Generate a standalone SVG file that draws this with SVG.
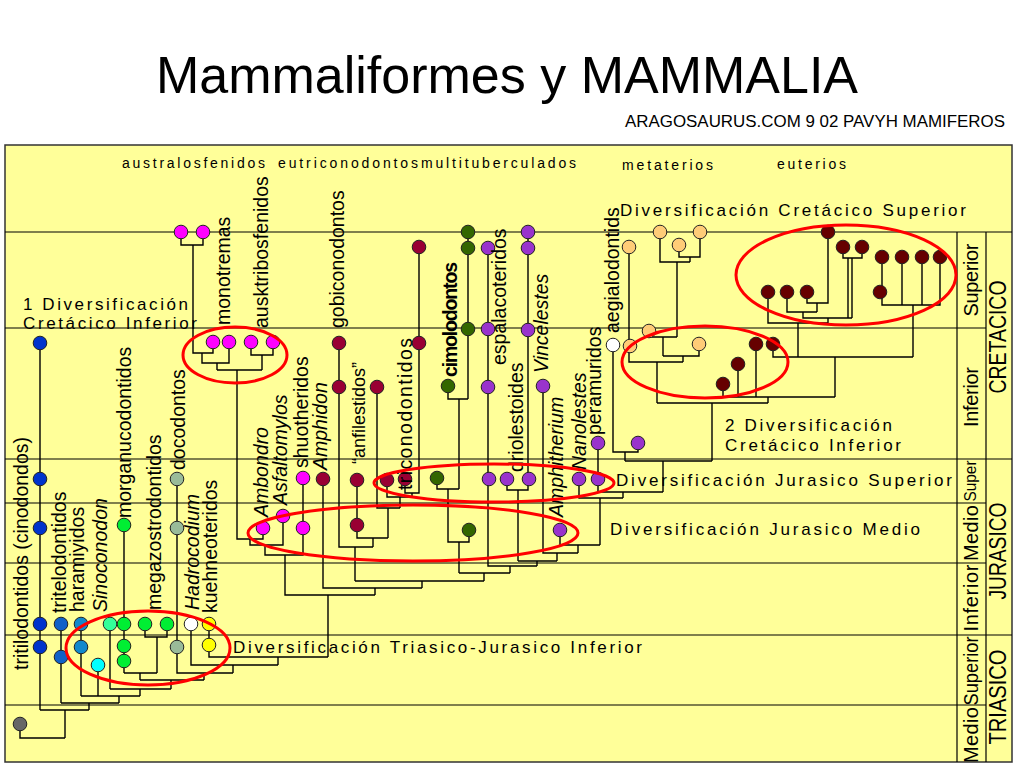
<svg xmlns="http://www.w3.org/2000/svg" width="1020" height="765" viewBox="0 0 1020 765">
<style>
.t{font-family:"Liberation Sans",Arial,sans-serif;fill:#000}
.v{font-size:19.5px}
.i{font-style:italic}
.lb{font-size:14px}
.dv{font-size:17px}
.p{font-size:20px}
.g{stroke:#000;stroke-width:1.2;fill:none}
.c{stroke:#000;stroke-width:1.4;fill:none}
.e{fill:none;stroke:#FF0000;stroke-width:3}
circle{stroke:#222;stroke-width:1}
.gy{fill:#666666}.bl{fill:#0033CC}.b2{fill:#1060C8}.b3{fill:#1188CC}.cy{fill:#00FFFF}.mi{fill:#33FF99}.gr{fill:#00EE33}.dc{fill:#99BB99}.wh{fill:#FFFFFF}.ye{fill:#FFFF00}.mg{fill:#FF00FF}.mr{fill:#990033}.dg{fill:#336600}.pu{fill:#9933CC}.or{fill:#FFCC77}.dm{fill:#660000}
</style>
<rect width="1020" height="765" fill="#fff"/>
<text class="t" x="507" y="93" font-size="52" text-anchor="middle">Mammaliformes y MAMMALIA</text>
<text class="t" x="625" y="127" font-size="16" textLength="380" lengthAdjust="spacingAndGlyphs">ARAGOSAURUS.COM 9 02 PAVYH MAMIFEROS</text>
<rect x="5" y="145" width="1007" height="617" fill="#FFFF99" stroke="#333" stroke-width="1.5"/>
<g id="grid">
<path class="g" d="M5,232H1012 M5,328H986 M5,459H1012 M5,503H986 M5,563H986 M5,635H1012 M5,705H986 M957,232V762 M986,232V762"/>
<text class="t p" transform="translate(978,280) rotate(-90)" text-anchor="middle" textLength="73">Superior</text>
<text class="t p" transform="translate(978,397) rotate(-90)" text-anchor="middle" textLength="60">Inferior</text>
<text class="t" font-size="16" transform="translate(976,481) rotate(-90)" text-anchor="middle" textLength="41" lengthAdjust="spacingAndGlyphs">Super</text>
<text class="t p" transform="translate(978,533) rotate(-90)" text-anchor="middle" textLength="56">Medio</text>
<text class="t p" transform="translate(978,598) rotate(-90)" text-anchor="middle" textLength="67">Inferior</text>
<text class="t p" transform="translate(978,671) rotate(-90)" text-anchor="middle" textLength="69" lengthAdjust="spacingAndGlyphs">Superior</text>
<text class="t p" transform="translate(978,735) rotate(-90)" text-anchor="middle" textLength="56">Medio</text>
<text class="t" font-size="23" transform="translate(1006,337) rotate(-90)" text-anchor="middle" textLength="113" lengthAdjust="spacingAndGlyphs">CRETACICO</text>
<text class="t" font-size="23" transform="translate(1006,551) rotate(-90)" text-anchor="middle" textLength="97" lengthAdjust="spacingAndGlyphs">JURASICO</text>
<text class="t" font-size="23" transform="translate(1006,697) rotate(-90)" text-anchor="middle" textLength="95" lengthAdjust="spacingAndGlyphs">TRIASICO</text>
</g>
<g id="labels">
<text class="t lb" x="122" y="168" textLength="143">australosfenidos</text>
<text class="t lb" x="278" y="168" textLength="140">eutriconodontos</text>
<text class="t lb" x="421" y="168" textLength="155">multituberculados</text>
<text class="t lb" x="622" y="170" textLength="91">metaterios</text>
<text class="t lb" x="777" y="169" textLength="69">euterios</text>
<text class="t dv" x="620" y="216" textLength="346">Diversificación Cretácico Superior</text>
<text class="t dv" x="23" y="310" textLength="165">1 Diversificación</text>
<text class="t dv" x="23" y="329" textLength="174">Cretácico Inferior</text>
<text class="t dv" x="725" y="431" textLength="167">2 Diversificación</text>
<text class="t dv" x="725" y="451" textLength="176">Cretácico Inferior</text>
<text class="t dv" x="616" y="486" textLength="336">Diversificación Jurasico Superior</text>
<text class="t dv" x="610" y="535" textLength="310">Diversificación Jurasico Medio</text>
<text class="t dv" x="233" y="653" textLength="409">Diversificación Triasico-Jurasico Inferior</text>
</g>
<g id="connectors">
<path class="c" d="M40,343V710 M61,624V703 M81,624V696 M98,665V696 M110,624V689 M124,525V673 M145,624V637H167V624 M157,637V673 M124,673H157 M140,673V680 M177,479V673H233 M204,673V680 M140,680H204 M171,680V689 M110,689H171 M140,689V696 M81,696H140 M119,696V703 M61,703H119 M89,703V710 M40,710H89 M65,710V738 M20,724V738H65 M191,624V665H278 M233,665V673 M209,624V657H328 M278,657V665 M328,595V657"/>
<path class="c" d="M181,232V245H203V232 M193,245V353H213V342 M202,353V363H229V342 M217,363V370 M251,342V355H273V342 M262,355V370 M217,370H262 M237,370V539H263V528 M250,539V545H283V516 M265,545V555H303V478 M285,555V595H375 M323,479V588H422 M375,588V595 M422,581V588 M355,581H484 M339,343V547H373 M355,547V581 M357,480V538H388 M373,538V547 M377,387V508H400 M388,508V538 M387,480V497H412 M400,497V508 M405,479V493H419V247 M412,493V497"/>
<path class="c" d="M484,573V581 M459,573H510 M468,232V399 M448,386V399H468 M459,399V489 M437,478V489H459 M448,489V542H469V530 M459,542V573 M488,248V566H537 M510,566V573 M537,561V566 M518,561H557 M507,479V490H528V232 M518,490V561 M557,553V561 M543,386V553H578 M578,545V553 M560,530V545H600 M600,498V545 M579,479V498H623 M598,443V492H663 M623,492V498 M663,461V492 M625,461H712 M613,345V452H638V443 M625,452V461 M712,403V461 M657,403H768"/>
<path class="c" d="M629,247V362H683 M657,362V403 M683,356V362 M663,356H699V344 M663,337V356 M649,331V337H677 M677,262V337 M660,232V262H690 M690,257V262 M679,245V257H700V232 M768,397V403 M723,384V397H835 M738,364V397 M756,344V397 M835,357V397 M773,344V357H913 M798,323V357 M913,305V357 M768,292V323H828 M828,318V323 M803,312V318H852 M787,292V312H817 M817,303V312 M807,292V303H828V232 M843,247V258H862V247 M848,258V318 M852,258V318 M882,257V305H940V257 M902,257V305 M922,257V305"/>
</g>
<g id="n-root"><circle class="gy" cx="20" cy="724" r="6.8"/></g>
<g id="n-tritilodontidos"><circle class="bl" cx="40" cy="343" r="6.8"/><circle class="bl" cx="40" cy="479" r="6.8"/><circle class="bl" cx="40" cy="528" r="6.8"/><circle class="bl" cx="40" cy="624" r="6.8"/><circle class="bl" cx="40" cy="647" r="6.8"/>
<text class="t v" transform="translate(28,670) rotate(-90)">tritilodontidos (cinodondos)</text></g>
<g id="n-tritelodontidos"><circle class="b2" cx="61" cy="624" r="6.8"/><circle class="b2" cx="61" cy="657" r="6.8"/>
<text class="t v" transform="translate(66,613) rotate(-90)">tritelodontidos</text></g>
<g id="n-haramiyidos"><circle class="b3" cx="81" cy="624" r="6.8"/><circle class="b3" cx="81" cy="647" r="6.8"/>
<text class="t v" transform="translate(84,612) rotate(-90)">haramiyidos</text></g>
<g id="n-sinoconodon"><circle class="cy" cx="98" cy="665" r="6.8"/><circle class="mi" cx="110" cy="624" r="6.8"/>
<text class="t v i" transform="translate(107,612) rotate(-90)">Sinoconodon</text></g>
<g id="n-morganucodontidos"><circle class="gr" cx="124" cy="525" r="6.8"/><circle class="gr" cx="124" cy="624" r="6.8"/><circle class="gr" cx="124" cy="646" r="6.8"/><circle class="gr" cx="124" cy="661" r="6.8"/>
<text class="t v" transform="translate(131,518) rotate(-90)">morganucodontidos</text></g>
<g id="n-megazostrodontidos"><circle class="gr" cx="145" cy="624" r="6.8"/><circle class="gr" cx="167" cy="624" r="6.8"/>
<text class="t v" transform="translate(161,610) rotate(-90)">megazostrodontidos</text></g>
<g id="n-docodontos"><circle class="dc" cx="177" cy="479" r="6.8"/><circle class="dc" cx="177" cy="528" r="6.8"/><circle class="dc" cx="177" cy="647" r="6.8"/>
<text class="t v" transform="translate(185,470) rotate(-90)">docodontos</text></g>
<g id="n-hadrocodium"><circle class="wh" cx="191" cy="624" r="6.8"/>
<text class="t v i" transform="translate(199,610) rotate(-90)">Hadrocodium</text></g>
<g id="n-kuehneoteridos"><circle class="ye" cx="209" cy="624" r="6.8"/><circle class="ye" cx="209" cy="645" r="6.8"/>
<text class="t v" transform="translate(217,613) rotate(-90)">kuehneoteridos</text></g>
<g id="n-australosfenidos"><circle class="mg" cx="181" cy="232" r="6.8"/><circle class="mg" cx="203" cy="232" r="6.8"/></g>
<g id="n-monotremas"><circle class="mg" cx="213" cy="342" r="6.8"/><circle class="mg" cx="229" cy="342" r="6.8"/>
<text class="t v" transform="translate(230,325) rotate(-90)">monotremas</text></g>
<g id="n-ausktribosfenidos"><circle class="mg" cx="251" cy="342" r="6.8"/><circle class="mg" cx="273" cy="342" r="6.8"/>
<text class="t v" transform="translate(268,328) rotate(-90)">ausktribosfenidos</text></g>
<g id="n-ambondro"><circle class="mg" cx="263" cy="528" r="6.8"/>
<text class="t v i" transform="translate(268,517) rotate(-90)">Ambondro</text></g>
<g id="n-asfaltomylos"><circle class="mg" cx="283" cy="516" r="6.8"/>
<text class="t v i" transform="translate(287,505) rotate(-90)">Asfaltomylos</text></g>
<g id="n-shuotheridos"><circle class="mg" cx="303" cy="478" r="6.8"/><circle class="mg" cx="303" cy="528" r="6.8"/>
<text class="t v" transform="translate(308,468) rotate(-90)">shuotheridos</text></g>
<g id="n-amphidon"><circle class="mr" cx="323" cy="479" r="6.8"/>
<text class="t v i" transform="translate(327,470) rotate(-90)">Amphidon</text></g>
<g id="n-gobiconodontos"><circle class="mr" cx="339" cy="343" r="6.8"/><circle class="mr" cx="339" cy="387" r="6.8"/>
<text class="t v" transform="translate(344,328) rotate(-90)">gobiconodontos</text></g>
<g id="n-anfilestidos"><circle class="mr" cx="357" cy="480" r="6.8"/><circle class="mr" cx="357" cy="525" r="6.8"/><circle class="mr" cx="377" cy="387" r="6.8"/>
<text class="t" font-size="18" transform="translate(365,464) rotate(-90)">“anfilestidos”</text></g>
<g id="n-triconodontidos"><circle class="mr" cx="387" cy="480" r="6.8"/><circle class="mr" cx="405" cy="479" r="6.8"/><circle class="mr" cx="419" cy="247" r="6.8"/><circle class="mr" cx="419" cy="343" r="6.8"/>
<text class="t v" transform="translate(412,490) rotate(-90)" textLength="152">triconodontidos</text></g>
<g id="n-cimolodontos"><circle class="dg" cx="468" cy="232" r="6.8"/><circle class="dg" cx="468" cy="248" r="6.8"/><circle class="dg" cx="468" cy="329" r="6.8"/><circle class="dg" cx="448" cy="386" r="6.8"/><circle class="dg" cx="437" cy="478" r="6.8"/><circle class="dg" cx="469" cy="530" r="6.8"/>
<text class="t v" font-weight="bold" transform="translate(457,377) rotate(-90)" textLength="115">cimolodontos</text></g>
<g id="n-espalacoteridos"><circle class="pu" cx="488" cy="248" r="6.8"/><circle class="pu" cx="488" cy="329" r="6.8"/><circle class="pu" cx="488" cy="387" r="6.8"/><circle class="pu" cx="489" cy="479" r="6.8"/>
<text class="t v" transform="translate(506,365) rotate(-90)">espalacoteridos</text></g>
<g id="n-driolestoides"><circle class="pu" cx="507" cy="479" r="6.8"/><circle class="pu" cx="529" cy="479" r="6.8"/><circle class="pu" cx="528" cy="232" r="6.8"/><circle class="pu" cx="528" cy="248" r="6.8"/><circle class="pu" cx="528" cy="330" r="6.8"/>
<text class="t v" transform="translate(523,472) rotate(-90)">driolestoides</text></g>
<g id="n-vincelestes"><circle class="pu" cx="543" cy="386" r="6.8"/>
<text class="t v i" transform="translate(548,373) rotate(-90)">Vincelestes</text></g>
<g id="n-amphitherium"><circle class="pu" cx="560" cy="530" r="6.8"/>
<text class="t v i" transform="translate(563,517) rotate(-90)">Amphitherium</text></g>
<g id="n-nanolestes"><circle class="pu" cx="579" cy="479" r="6.8"/>
<text class="t v i" transform="translate(586,470) rotate(-90)">Nanolestes</text></g>
<g id="n-peramuridos"><circle class="pu" cx="598" cy="479" r="6.8"/><circle class="pu" cx="598" cy="443" r="6.8"/><circle class="pu" cx="638" cy="443" r="6.8"/>
<text class="t v" transform="translate(601,435) rotate(-90)">peramuridos</text></g>
<g id="n-aegialodontids"><circle class="wh" cx="613" cy="345" r="6.8"/>
<text class="t v" transform="translate(619,333) rotate(-90)">aegialodontids</text></g>
<g id="n-metaterios"><circle class="or" cx="629" cy="247" r="6.8"/><circle class="or" cx="660" cy="232" r="6.8"/><circle class="or" cx="700" cy="232" r="6.8"/><circle class="or" cx="679" cy="245" r="6.8"/><circle class="or" cx="649" cy="331" r="6.8"/><circle class="or" cx="630" cy="346" r="6.8"/><circle class="or" cx="699" cy="344" r="6.8"/></g>
<g id="n-euterios"><circle class="dm" cx="723" cy="384" r="6.8"/><circle class="dm" cx="738" cy="364" r="6.8"/><circle class="dm" cx="756" cy="344" r="6.8"/><circle class="dm" cx="773" cy="344" r="6.8"/><circle class="dm" cx="828" cy="232" r="6.8"/><circle class="dm" cx="843" cy="247" r="6.8"/><circle class="dm" cx="862" cy="247" r="6.8"/><circle class="dm" cx="882" cy="257" r="6.8"/><circle class="dm" cx="902" cy="257" r="6.8"/><circle class="dm" cx="922" cy="257" r="6.8"/><circle class="dm" cx="940" cy="257" r="6.8"/><circle class="dm" cx="768" cy="292" r="6.8"/><circle class="dm" cx="787" cy="292" r="6.8"/><circle class="dm" cx="807" cy="292" r="6.8"/><circle class="dm" cx="880" cy="292" r="6.8"/></g>
<g id="highlights">
<ellipse class="e" cx="148" cy="648" rx="82" ry="37"/>
<ellipse class="e" cx="235" cy="355" rx="52" ry="28"/>
<ellipse class="e" cx="413" cy="533" rx="165" ry="28"/>
<ellipse class="e" cx="494" cy="483" rx="120" ry="19"/>
<ellipse class="e" cx="705" cy="362" rx="83" ry="36"/>
<ellipse class="e" cx="846" cy="275" rx="110" ry="50"/>
</g>
</svg>
